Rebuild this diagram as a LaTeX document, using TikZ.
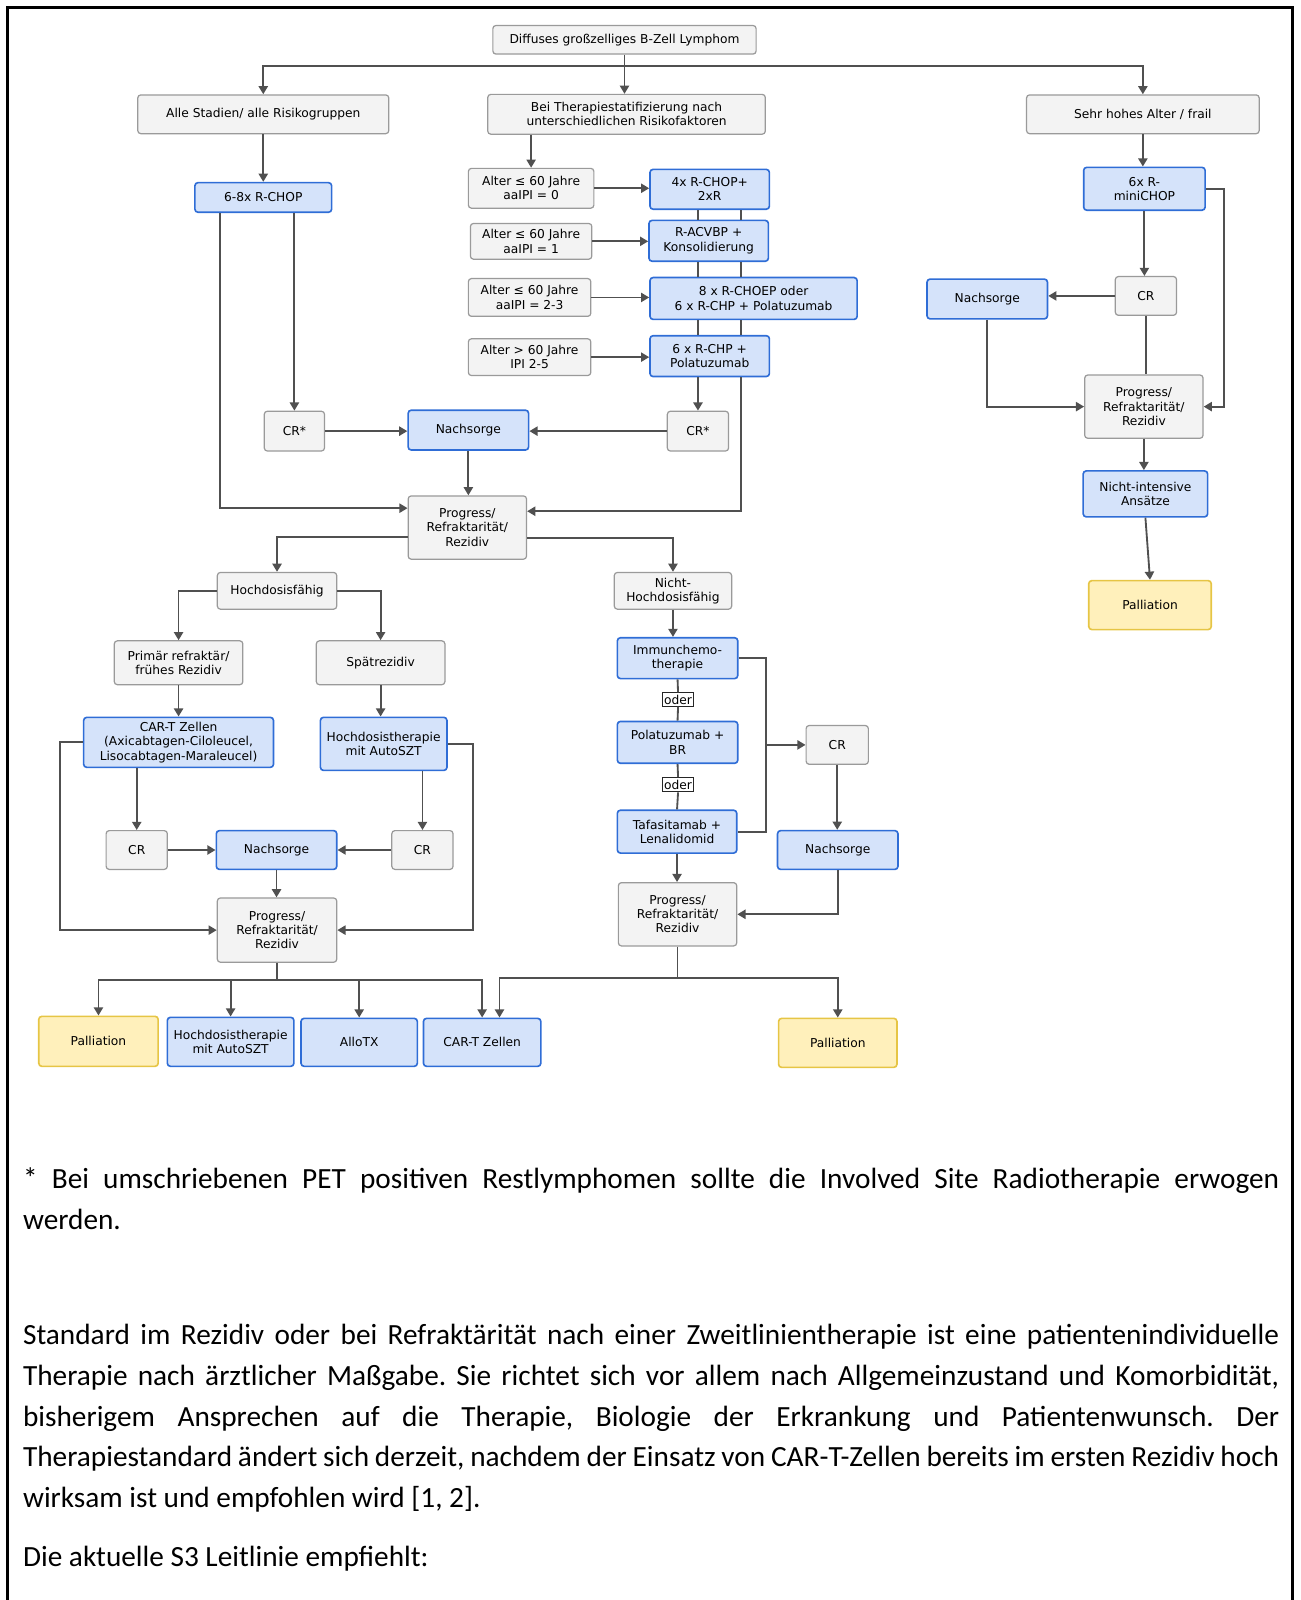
\documentclass[tikz,border=0pt]{standalone}
\usepackage{fontspec}
\setmainfont{DejaVu Sans}
\newfontfamily\bodyfont{Carlito}
\usetikzlibrary{arrows.meta,calc}
\definecolor{grfill}{HTML}{F3F3F3}
\definecolor{grline}{HTML}{9A9A9A}
\definecolor{blfill}{HTML}{D5E3FA}
\definecolor{blline}{HTML}{2F6DD6}
\definecolor{gefill}{HTML}{FFF0BB}
\definecolor{geline}{HTML}{E6C545}
\definecolor{lncol}{HTML}{505050}
\tikzset{
  wh/.style 2 args={minimum width=#1*0.5pt,minimum height=#2*0.5pt},
  grbox/.style={draw=grline,fill=grfill},
  blbox/.style={draw=blline,fill=blfill,line width=0.8pt},
  gebox/.style={draw=geline,fill=gefill,line width=0.8pt},
  oderbox/.style={draw=black!85,fill=white,rounded corners=0pt,line width=0.5pt},
  lnk/.style={draw=lncol,line width=0.9pt},
  arr/.style={lnk,-{Triangle[width=4.5pt,length=4pt]}},
  bodytext/.style={anchor=north west,text width=615.5pt,align=justify,font=\bodyfont\fontsize{14.35}{20}\selectfont\frenchspacing}
}
\begin{document}
\begin{tikzpicture}[x=0.5pt,y=-0.5pt,
    every node/.style={font=\fontsize{6}{7}\selectfont,align=center,inner sep=0pt,rounded corners=1.5pt,line width=0.6pt}]
  \useasboundingbox (0,0) rectangle (1274,1568);
  \draw[line width=1.5pt] (7.3,1568) -- (7.3,7.3) -- (1267,7.3) -- (1267,1568);

  % first line
  \node[grbox,wh={258}{28}] (dlbcl) at (612,39) {Diffuses großzelliges B-Zell Lymphom};
  \node[grbox,wh={246}{38}] (alle) at (258,112) {Alle Stadien/ alle Risikogruppen};
  \node[grbox,wh={272}{39}] (strat) at (614,112) {Bei Therapiestatifizierung nach\\unterschiedlichen Risikofaktoren};
  \node[grbox,wh={228}{38}] (frail) at (1120,112) {Sehr hohes Alter / frail};

  \node[blbox,wh={134}{29}] (rchop) at (258,193.5) {6-8x R-CHOP};
  \node[grbox,wh={123}{39}] (alterA) at (520.5,184.5) {Alter ≤ 60 Jahre\\aaIPI = 0};
  \node[grbox,wh={119}{35}] (alterB) at (520.5,236.5) {Alter ≤ 60 Jahre\\aaIPI = 1};
  \node[grbox,wh={120}{37}] (alterC) at (519,291.5) {Alter ≤ 60 Jahre\\aaIPI = 2-3};
  \node[grbox,wh={120}{36}] (alterD) at (519,350) {Alter > 60 Jahre\\IPI 2-5};
  \node[blbox,wh={117}{39}] (thA) at (695.5,185.5) {4x R-CHOP+\\2xR};
  \node[blbox,wh={117}{40}] (thB) at (694.5,236) {R-ACVBP +\\Konsolidierung};
  \node[blbox,wh={203}{41}] (thC) at (738.5,292.5) {8 x R-CHOEP oder\\6 x R-CHP + Polatuzumab};
  \node[blbox,wh={117}{40}] (thD) at (695.5,349) {6 x R-CHP +\\Polatuzumab};
  \node[grbox,wh={59}{39}] (crA) at (288.5,422.5) {CR*};
  \node[blbox,wh={118}{39}] (nachA) at (459,421.5) {Nachsorge};
  \node[grbox,wh={60}{39}] (crB) at (684,422.5) {CR*};
  \node[grbox,wh={116}{62}] (progA) at (458,517) {Progress/\\Refraktarität/\\Rezidiv};

  % sehr hohes Alter
  \node[blbox,wh={119}{42}] (mini) at (1121.5,185) {6x R-\\miniCHOP};
  \node[grbox,wh={60}{38}] (crF) at (1123,290) {CR};
  \node[blbox,wh={118}{39}] (nachD) at (967.5,293) {Nachsorge};
  \node[grbox,wh={116}{62}] (progD) at (1121,398.5) {Progress/\\Refraktarität/\\Rezidiv};
  \node[blbox,wh={122}{45}] (nichti) at (1122.5,484) {Nicht-intensive\\Ansätze};
  \node[gebox,wh={120}{48}] (pallC) at (1127,593) {Palliation};

  % hochdosisfaehig
  \node[grbox,wh={117}{36}] (hdf) at (271.5,579) {Hochdosisfähig};
  \node[grbox,wh={126}{43}] (primref) at (175,649.5) {Primär refraktär/\\frühes Rezidiv};
  \node[grbox,wh={126}{43}] (spaet) at (373,649.5) {Spätrezidiv};
  \node[blbox,wh={186}{49}] (cartA) at (175,727.5) {CAR-T Zellen\\(Axicabtagen-Ciloleucel,\\Lisocabtagen-Maraleucel)};
  \node[blbox,wh={124}{52}] (hdtA) at (376,729) {Hochdosistherapie\\mit AutoSZT};
  \node[grbox,wh={60}{38}] (crC) at (134,833) {CR};
  \node[blbox,wh={118}{38}] (nachB) at (271,833) {Nachsorge};
  \node[grbox,wh={60}{38}] (crD) at (414,833) {CR};
  \node[grbox,wh={117}{63}] (progB) at (271.5,911.5) {Progress/\\Refraktarität/\\Rezidiv};
  \node[gebox,wh={117}{49}] (pallA) at (96.5,1020.5) {Palliation};
  \node[blbox,wh={124}{48}] (hdtB) at (226,1021) {Hochdosistherapie\\mit AutoSZT};
  \node[blbox,wh={114}{47}] (allo) at (352,1021.5) {AlloTX};
  \node[blbox,wh={115}{47}] (cartB) at (472.5,1021.5) {CAR-T Zellen};

  % nicht hochdosisfaehig
  \node[grbox,wh={115}{36}] (nhdf) at (659.5,579) {Nicht-\\Hochdosisfähig};
  \node[blbox,wh={118}{40}] (immun) at (664,645) {Immunchemo-\\therapie};
  \node[oderbox,wh={31}{13}] (oderA) at (664.5,685.5) {oder};
  \node[blbox,wh={118}{41}] (pola) at (664,727.5) {Polatuzumab +\\BR};
  \node[oderbox,wh={31}{14}] (oderB) at (664.5,769) {oder};
  \node[blbox,wh={117}{42}] (tafa) at (663.5,815) {Tafasitamab +\\Lenalidomid};
  \node[grbox,wh={116}{62}] (progC) at (664,896) {Progress/\\Refraktarität/\\Rezidiv};
  \node[grbox,wh={61}{38}] (crE) at (820.5,730) {CR};
  \node[blbox,wh={118}{38}] (nachC) at (821,833) {Nachsorge};
  \node[gebox,wh={116}{48}] (pallB) at (821,1022) {Palliation};

  % connectors
  \draw[lnk] (dlbcl.south) -- ++(0,11) coordinate (jtop);
  \draw[arr] (jtop) -| (alle.north);
  \draw[arr] (jtop) -| (frail.north);
  \draw[arr] (jtop) -- (jtop |- strat.north);
  \draw[arr] (alle.south) -- (rchop.north);
  \draw[arr] (rchop.south -| crA) -- (crA.north);
  \draw[arr] ($(rchop.south)+(-42,0)$) |- ($(progA.west)+(0,-19)$);
  \draw[arr] (crA.east) -- (crA.east -| nachA.west);
  \draw[arr] (crB.west) -- (crB.west -| nachA.east);
  \draw[arr] (nachA.south) -- (nachA.south |- progA.north);
  \draw[arr] (strat.south -| alterA) -- (alterA.north);
  \foreach \a/\t in {alterA/thA,alterB/thB,alterC/thC,alterD/thD}
    \draw[arr] (\a.east) -- (\a.east -| \t.west);
  \coordinate (colL) at (684,0);
  \coordinate (colR) at (726,0);
  \foreach \u/\v in {thA/thB,thB/thC,thC/thD} {
    \draw[lnk] (\u.south -| colL) -- (\v.north -| colL);
    \draw[lnk] (\u.south -| colR) -- (\v.north -| colR);
  }
  \draw[arr] (thD.south -| crB) -- (crB.north);
  \draw[arr] (thD.south -| colR) |- ($(progA.east)+(0,-16)$);
  \draw[arr] ($(progA.west)+(0,9)$) -| (hdf.north);
  \draw[arr] ($(progA.east)+(0,10)$) -| (nhdf.north);

  \draw[arr] (hdf.west) -| (primref.north);
  \draw[arr] (hdf.east) -| (spaet.north);
  \draw[arr] (primref.south) -- (cartA.north);
  \draw[arr] (spaet.south) -- (spaet.south |- hdtA.north);
  \draw[arr] (cartA.south -| crC) -- (crC.north);
  \draw[arr] (hdtA.south -| crD) -- (crD.north);
  \draw[arr] (crC.east) -- (crC.east -| nachB.west);
  \draw[arr] (crD.west) -- (crD.west -| nachB.east);
  \draw[arr] (nachB.south) -- (nachB.south |- progB.north);
  \draw[arr] (cartA.west) -- ++(-22,0) |- (progB.west);
  \draw[arr] (hdtA.east) -- ++(25,0) |- (progB.east);
  \draw[lnk] (progB.south) -- ++(0,17) coordinate (jB);
  \foreach \n in {pallA,hdtB,allo,cartB}
    \draw[arr] (jB) -| (\n.north);

  \draw[arr] (nhdf.south) -- (nhdf.south |- immun.north);
  \draw[lnk] (immun.south) -- (oderA.north) (oderA.south) -- (pola.north);
  \draw[lnk] (pola.south) -- (oderB.north) (oderB.south) -- (tafa.north);
  \draw[arr] (tafa.south) -- (tafa.south |- progC.north);
  \draw[lnk] (immun.east) -- ++(27,0) coordinate (jC) |- (tafa.east);
  \draw[arr] (jC |- crE.west) -- (crE.west);
  \draw[arr] (crE.south) -- (crE.south |- nachC.north);
  \draw[arr] (nachC.south) |- (progC.east);
  \draw[lnk] (progC.south) -- ++(0,31) coordinate (jD);
  \draw[arr] (jD) -| ($(cartB.north)+(17,0)$);
  \draw[arr] (jD) -| (pallB.north);

  \draw[arr] (frail.south) -- (frail.south |- mini.north);
  \draw[arr] (mini.south) -- (mini.south |- crF.north);
  \draw[arr] (crF.west) -- (crF.west -| nachD.east);
  \draw[lnk] (crF.south) -- (crF.south |- progD.north);
  \draw[arr] (nachD.south) |- (progD.west);
  \draw[arr] (mini.east) -- ++(18,0) |- (progD.east);
  \draw[arr] (progD.south) -- (progD.south |- nichti.north);
  \draw[arr] (nichti.south) -- (pallC.north);

  % text below
  \node[bodytext] (foot) at (22,1144)
    {* Bei umschriebenen PET positiven Restlymphomen sollte die Involved Site Radiotherapie erwogen\linebreak werden.};
  \node[bodytext] (para) at (22,1297)
    {Standard im Rezidiv oder bei Refraktärität nach einer Zweitlinientherapie ist eine patientenindividuelle\linebreak
     Therapie nach ärztlicher Maßgabe. Sie richtet sich vor allem nach Allgemeinzustand und Komorbidität,\linebreak
     bisherigem Ansprechen auf die Therapie, Biologie der Erkrankung und Patientenwunsch. Der\linebreak
     {\spaceskip=0.16em plus 0.3em minus 0.1em Therapiestandard ändert sich derzeit, nachdem der Einsatz von CAR-T-Zellen bereits im ersten Rezidiv hoch\linebreak}
     wirksam ist und empfohlen wird [1, 2].};
  \node[bodytext,text width=] (leit) at (22,1515) {Die aktuelle S3 Leitlinie empfiehlt:};
\end{tikzpicture}
\end{document}
